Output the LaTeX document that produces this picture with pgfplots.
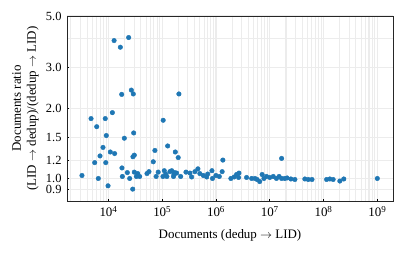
\documentclass[border=0pt]{standalone}
\usepackage{fontspec}
\setmainfont{Liberation Serif}
\usepackage{pgfplots}
\pgfplotsset{compat=1.18}
\definecolor{mplblue}{RGB}{31,119,180}
\definecolor{gridgray}{RGB}{236,236,236}
\begin{document}
\fontsize{13}{15.5}\selectfont
\begin{tikzpicture}
\begin{axis}[
  at={(0,0)}, anchor=south west,
  scale only axis, width=326bp, height=185bp,
  xmode=log, ymode=log,
  xmin=1.69e3, xmax=1.96e9, ymin=0.8, ymax=5,
  xtick={1e4,1e5,1e6,1e7,1e8,1e9},
  xticklabels={10\textsuperscript{4},10\textsuperscript{5},10\textsuperscript{6},10\textsuperscript{7},10\textsuperscript{8},10\textsuperscript{9}},
  minor xtick={2e3,3e3,4e3,5e3,6e3,7e3,8e3,9e3,
    2e4,3e4,4e4,5e4,6e4,7e4,8e4,9e4,
    2e5,3e5,4e5,5e5,6e5,7e5,8e5,9e5,
    2e6,3e6,4e6,5e6,6e6,7e6,8e6,9e6,
    2e7,3e7,4e7,5e7,6e7,7e7,8e7,9e7,
    2e8,3e8,4e8,5e8,6e8,7e8,8e8,9e8},
  ytick={0.9,1.0,1.2,1.5,2.0,3.0,5.0},
  yticklabels={0.9,1.0,1.2,1.5,2.0,3.0,5.0},
  minor ytick={4},
  grid=both,
  major grid style={draw=gridgray, line width=1.1pt},
  minor grid style={draw=gridgray, line width=1.1pt},
  minor tick length=0pt,
  major tick length=2.5pt,
  tick align=inside,
  xtick pos=bottom, ytick pos=left,
  tick style={black, line width=0.6pt},
  axis line style={black!85, line width=1pt},
  xticklabel style={yshift=-1bp, font=\fontsize{13}{15.5}\selectfont},
  yticklabel style={xshift=-1bp, inner ysep=0pt, font=\fontsize{12.5}{14}\selectfont},
  xlabel={Documents (dedup $\rightarrow$ LID)},
  ylabel={Documents ratio\\(LID $\rightarrow$ dedup)/(dedup $\rightarrow$ LID)},
  every axis x label/.style={at={(axis description cs:0.5,0)}, yshift=-34bp, anchor=center, font=\fontsize{13}{15.5}\selectfont},
  every axis y label/.style={at={(axis description cs:0,0.5)}, xshift=-41.5bp, anchor=center, rotate=90, align=center, font=\fontsize{13}{15}\selectfont},
]
\addplot[only marks, mark=*, mark size=2.3pt, mplblue, mark options={draw=mplblue, fill=mplblue}] coordinates {
(1.27e4,3.92) (2.37e4,4.04) (1.66e4,3.67)
(2.66e4,2.40) (2.89e4,2.31) (1.76e4,2.30) (2.04e5,2.31)
(1.18e4,1.92) (4.73e3,1.81) (8.7e3,1.81) (6.04e3,1.67) (1.04e5,1.78)
(9.1e3,1.53) (2.94e4,1.57) (1.97e4,1.49)
(7.9e3,1.36) (1.08e4,1.30) (1.30e4,1.28) (6.95e3,1.25) (3.02e4,1.26) (2.85e4,1.24)
(7.3e4,1.32) (1.26e5,1.38) (1.75e5,1.30) (1.98e5,1.23)
(6.8e4,1.18) (5.54e3,1.17) (8.9e3,1.17) (1.78e4,1.11)
(3.21e3,1.03) (6.46e3,1.00) (9.8e3,0.93) (2.82e4,0.90)
(1.34e6,1.20) (1.66e7,1.22) (1e9,1.0)
(1.81e4,1.02) (2.24e4,1.06) (2.48e4,1.00) (3.02e4,1.065) (3.49e4,1.05) (3.8e4,1.02) (3.3e4,1.02)
(5.2e4,1.05) (5.66e4,1.07) (8.4e4,1.065) (7.7e4,1.02) (1.09e5,1.08) (1.03e5,1.02)
(1.22e5,1.02) (1.39e5,1.07) (1.7e5,1.06) (1.62e5,1.02) (1.16e5,1.045)
(1.5e5,1.08) (1.65e5,1.04) (1.85e5,1.055) (2.2e5,1.02) (2.76e5,1.065) (3.27e5,1.055)
(3.52e5,1.015) (4.05e5,1.07) (4.6e5,1.10) (5.0e5,1.05) (5.8e5,1.03) (6.7e5,1.015)
(7.0e5,1.045) (8.4e5,1.08) (8.6e5,1.0) (9.96e5,1.03) (1.15e6,1.02) (1.30e6,1.07)
(1.89e6,1.0) (2.18e6,1.015) (2.41e6,1.04) (2.67e6,1.055) (2.63e6,1.01)
(3.7e6,1.01) (4.6e6,1.0) (5.3e6,1.0) (5.8e6,0.99) (6.5e6,0.97) (7.2e6,1.04) (7.8e6,1.0)
(8.7e6,1.02) (1.0e7,1.01) (1.16e7,1.02) (1.33e7,1.0) (1.49e7,1.02)
(1.66e7,1.0) (1.9e7,1.0) (2.1e7,1.005) (2.47e7,0.995) (2.93e7,0.99)
(4.5e7,0.995) (5.2e7,0.99) (6.1e7,0.99)
(1.14e8,0.99) (1.31e8,0.995) (1.51e8,0.99) (2.01e8,0.975) (2.38e8,0.995)
};
\end{axis}
\path (-67bp,-54bp) rectangle (338bp,201bp);
\end{tikzpicture}
\end{document}
